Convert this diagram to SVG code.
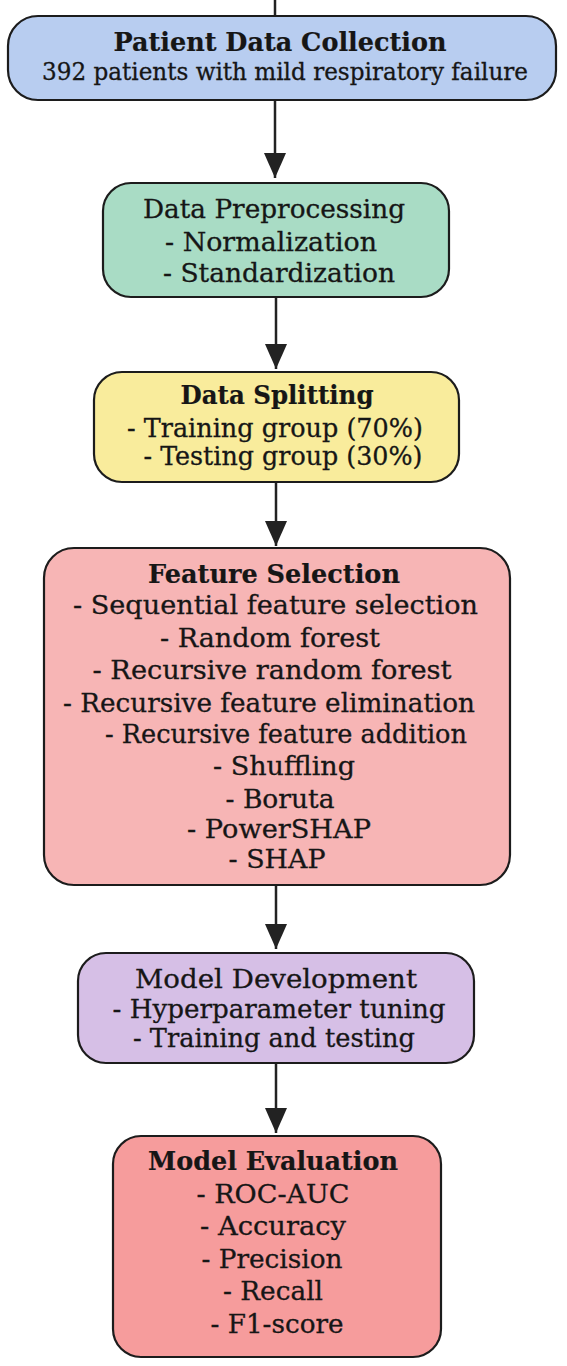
<svg xmlns="http://www.w3.org/2000/svg" width="567" height="1366" viewBox="0 0 567 1366">
  <defs>
    <marker id="ah" viewBox="0 0 25 22" refX="25" refY="11" markerWidth="25" markerHeight="22" markerUnits="userSpaceOnUse" orient="auto">
      <path d="M0,0 L25,11 L0,22 z" fill="#222"/>
    </marker>
    <style>
      .box { stroke: #1c1c1c; stroke-width: 2.2; }
      .t { font-family: "DejaVu Serif", "Liberation Serif", serif; font-size: 26px; fill: #161616; stroke: #161616; stroke-width: 0.3; text-anchor: middle; }
      .b { font-weight: bold; font-size: 26px; stroke-width: 0.2; }
      .s { font-size: 24px; }
      .conn { stroke: #222; stroke-width: 2.5; fill: none; marker-end: url(#ah); }
    </style>
  </defs>
  <rect width="567" height="1366" fill="#ffffff"/>

  <g id="connectors">
    <line x1="275" y1="0" x2="275" y2="16" stroke="#222" stroke-width="2.5"/>
    <line class="conn" x1="275" y1="100" x2="275" y2="178"/>
    <line class="conn" x1="276" y1="297" x2="276" y2="369"/>
    <line class="conn" x1="276" y1="482" x2="276" y2="546"/>
    <line class="conn" x1="276" y1="885" x2="276" y2="949"/>
    <line class="conn" x1="276" y1="1063" x2="276" y2="1133"/>
  </g>

  <g id="patient-data-collection">
    <rect class="box" x="8" y="16" width="548" height="84" rx="30" fill="#b8cdf0"/>
    <text class="t b" x="280" y="51" textLength="333" lengthAdjust="spacingAndGlyphs">Patient Data Collection</text>
    <text class="t s" x="285" y="80" textLength="486" lengthAdjust="spacingAndGlyphs">392 patients with mild respiratory failure</text>
  </g>

  <g id="data-preprocessing">
    <rect class="box" x="103" y="183" width="346" height="114" rx="28" fill="#a9dcc5"/>
    <text class="t" x="274" y="218" textLength="262" lengthAdjust="spacingAndGlyphs">Data Preprocessing</text>
    <text class="t" x="271" y="251" textLength="212" lengthAdjust="spacingAndGlyphs">- Normalization</text>
    <text class="t" x="279" y="282" textLength="232" lengthAdjust="spacingAndGlyphs">- Standardization</text>
  </g>

  <g id="data-splitting">
    <rect class="box" x="94" y="372" width="365" height="110" rx="28" fill="#f9ec9c"/>
    <text class="t b" x="277" y="404" textLength="193" lengthAdjust="spacingAndGlyphs">Data Splitting</text>
    <text class="t" x="275" y="437" textLength="296" lengthAdjust="spacingAndGlyphs">- Training group (70%)</text>
    <text class="t" x="283" y="465" textLength="279" lengthAdjust="spacingAndGlyphs">- Testing group (30%)</text>
  </g>

  <g id="feature-selection">
    <rect class="box" x="44" y="548" width="466" height="337" rx="30" fill="#f7b5b5"/>
    <text class="t b" x="274" y="583" textLength="252" lengthAdjust="spacingAndGlyphs">Feature Selection</text>
    <text class="t" x="275.5" y="614" textLength="405" lengthAdjust="spacingAndGlyphs">- Sequential feature selection</text>
    <text class="t" x="270" y="647" textLength="220" lengthAdjust="spacingAndGlyphs">- Random forest</text>
    <text class="t" x="272" y="679" textLength="359" lengthAdjust="spacingAndGlyphs">- Recursive random forest</text>
    <text class="t" x="269" y="712" textLength="412" lengthAdjust="spacingAndGlyphs">- Recursive feature elimination</text>
    <text class="t" x="286" y="743" textLength="362" lengthAdjust="spacingAndGlyphs">- Recursive feature addition</text>
    <text class="t" x="284" y="775" textLength="142" lengthAdjust="spacingAndGlyphs">- Shuffling</text>
    <text class="t" x="280" y="808" textLength="109" lengthAdjust="spacingAndGlyphs">- Boruta</text>
    <text class="t" x="279" y="838" textLength="184" lengthAdjust="spacingAndGlyphs">- PowerSHAP</text>
    <text class="t" x="277" y="868" textLength="97" lengthAdjust="spacingAndGlyphs">- SHAP</text>
  </g>

  <g id="model-development">
    <rect class="box" x="78" y="953" width="396" height="110" rx="28" fill="#d6bfe6"/>
    <text class="t" x="276" y="988" textLength="282" lengthAdjust="spacingAndGlyphs">Model Development</text>
    <text class="t" x="279" y="1018" textLength="333" lengthAdjust="spacingAndGlyphs">- Hyperparameter tuning</text>
    <text class="t" x="274" y="1047" textLength="282" lengthAdjust="spacingAndGlyphs">- Training and testing</text>
  </g>

  <g id="model-evaluation">
    <rect class="box" x="113" y="1136" width="328" height="221" rx="28" fill="#f69c9c"/>
    <text class="t b" x="273" y="1170" textLength="250" lengthAdjust="spacingAndGlyphs">Model Evaluation</text>
    <text class="t" x="273" y="1203" textLength="153" lengthAdjust="spacingAndGlyphs">- ROC-AUC</text>
    <text class="t" x="273" y="1235" textLength="146" lengthAdjust="spacingAndGlyphs">- Accuracy</text>
    <text class="t" x="272" y="1268" textLength="141" lengthAdjust="spacingAndGlyphs">- Precision</text>
    <text class="t" x="273" y="1300" textLength="100" lengthAdjust="spacingAndGlyphs">- Recall</text>
    <text class="t" x="277" y="1333" textLength="133" lengthAdjust="spacingAndGlyphs">- F1-score</text>
  </g>
</svg>
